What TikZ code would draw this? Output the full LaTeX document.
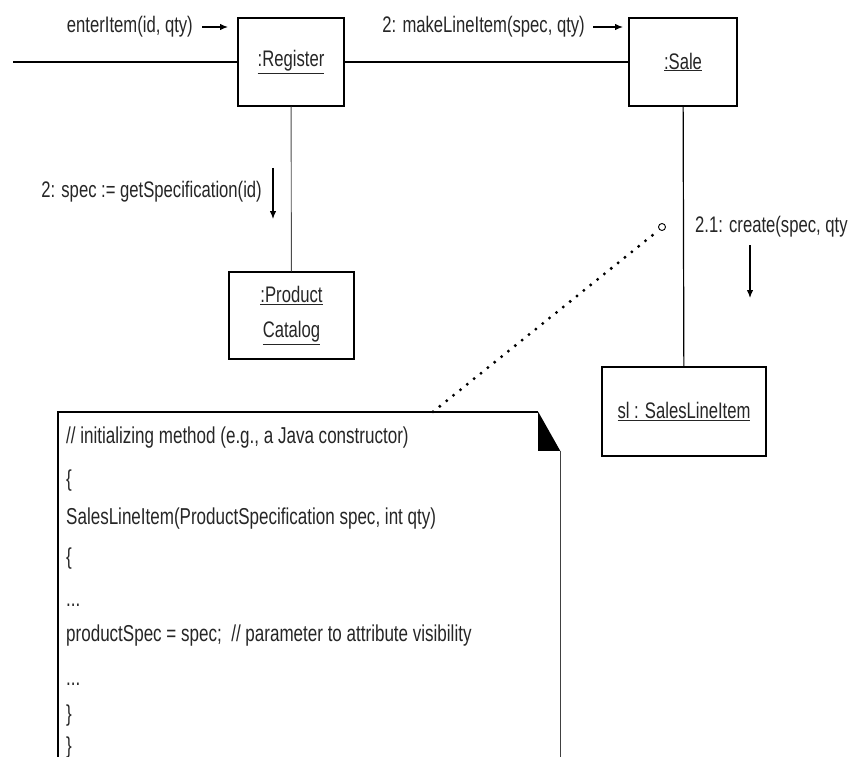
\documentclass[tikz,border=0pt]{standalone}
\usepackage{fontspec}
\setmainfont[FakeStretch=0.74]{Liberation Sans}
\usetikzlibrary{arrows.meta}
\begin{document}
\begin{tikzpicture}[x=1pt,y=-1pt,
  every node/.style={font=\fontsize{22.5}{35}\selectfont, text=black!85, inner sep=0pt},
  obj/.style={draw, line width=1.5pt, inner sep=0pt, align=center},
  link/.style={line width=1.2pt},
  thinlink/.style={line width=0.9pt, draw=black!70},
  msg/.style={line width=1.2pt, -{Latex[length=8pt,width=6.5pt]}},
  codeline/.style={anchor=west, font=\fontsize{23}{35}\selectfont, text height=16pt, text depth=5pt},
  dotline/.style={line width=3.3pt, dash pattern=on 0pt off 8.8pt, line cap=round},
]
\useasboundingbox (0,0) rectangle (849,757);
\clip (0,0) rectangle (849,757);
\fill[white] (0,0) rectangle (849,757);

% objects
\node[obj, minimum width=106, minimum height=88] (reg) at (291,62) {\underline{:Register}};
\node[obj, minimum width=108, minimum height=88] (sale) at (683,62) {\underline{:Sale}};
\node[obj, minimum width=125, minimum height=87] (cat) at (291.5,315.5) {\underline{:Product}\\\underline{Catalog}};
\node[obj, minimum width=164, minimum height=89] (sli) at (684,411.5) {\underline{sl : SalesLineItem}};

% links
\coordinate (start) at (13,62);
\draw[link] (start) -- (reg);
\draw[link] (reg) -- (sale);
\draw[thinlink] (reg) -- (cat);
\draw[link] (sale) -- (sli);

% messages
\node[anchor=east] (m1) at (193,27) {enterItem(id, qty)};
\draw[msg] ([xshift=9pt]m1.east) -- ++(26,0);
\node[anchor=east] (m2) at (585,27) {2: makeLineItem(spec, qty)};
\draw[msg] ([xshift=8pt]m2.east) -- ++(30,0);
\node[anchor=east] (m3) at (262,192) {2: spec := getSpecification(id)};
\coordinate (a3) at (273,168);
\draw[msg] (a3) -- ++(0,51);
\node[anchor=west] (m4) at (695,227) {2.1: create(spec, qty};
\coordinate (a4) at (750,245);
\draw[msg] (a4) -- ++(0,53);

% note
\node[minimum width=502, minimum height=356] (note) at (309,590) {};
\draw[line width=1.6pt] (note.south west) -- (note.north west) -- ([xshift=-22pt]note.north east);
\draw[line width=1.1pt, draw=black!75] ([yshift=-39pt]note.north east) -- (note.south east);
\fill[black] ([xshift=-22pt]note.north east) -- ([xshift=-22pt,yshift=-39pt]note.north east) -- ([yshift=-39pt]note.north east) -- cycle;

\node[codeline] (c1) at (66,438) {// initializing method (e.g., a Java constructor)};
\node[codeline] (c2) at (66,481) {\{};
\node[codeline] (c3) at (66,519) {SalesLineItem(ProductSpecification spec, int qty)};
\node[codeline] (c4) at (66,559) {\{};
\node[codeline] (c5) at (66,601) {...};
\node[codeline] (c6) at (66,636) {productSpec = spec;\ \ // parameter to attribute visibility};
\node[codeline] (c7) at (66,680) {...};
\node[codeline] (c8) at (66,716) {\}};
\node[codeline] (c9) at (66,748) {\}};

% anchor of note
\node[draw, circle, minimum size=7, line width=0.9pt] (circ) at (662,227) {};
\draw[dotline] ([xshift=124pt]note.north) -- (circ.south west);
\end{tikzpicture}
\end{document}
